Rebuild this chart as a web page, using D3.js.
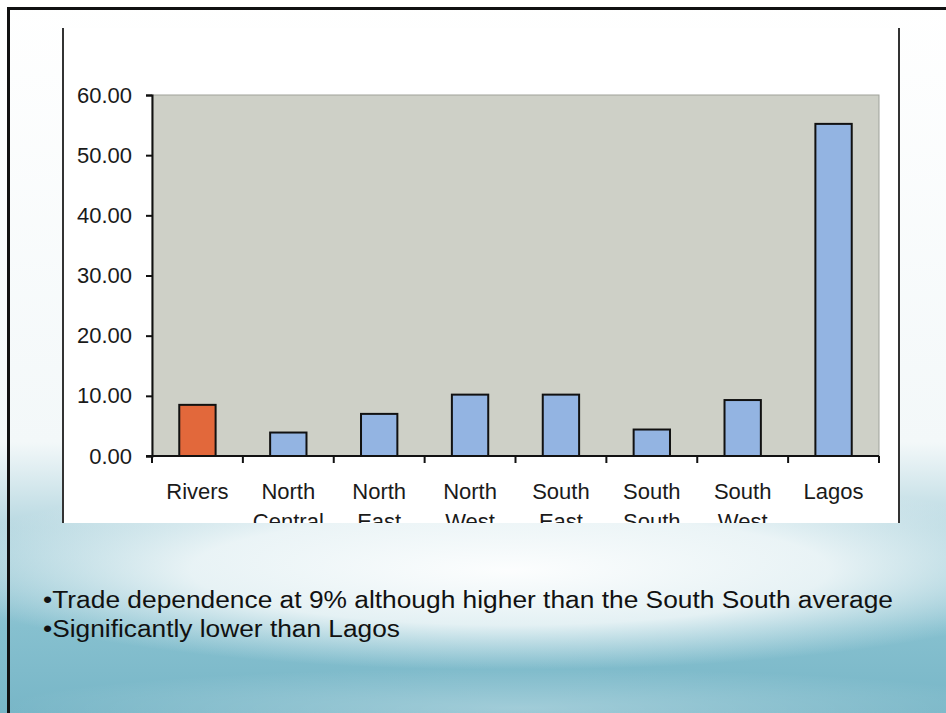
<!DOCTYPE html>
<html>
<head>
<meta charset="utf-8">
<script src="https://cdn.jsdelivr.net/npm/d3@7"></script>
<style>
  html, body { margin: 0; padding: 0; background: #ffffff; }
  svg { display: block; }
  text { font-family: "Liberation Sans", Arial, sans-serif; }
</style>
</head>
<body>
<svg id="chart" width="946" height="713"></svg>
<script>
// ---- data ----
const categories = ["Rivers", "North Central", "North East", "North West", "South East", "South South", "South West", "Lagos"];
const values = [8.5, 3.9, 7.0, 10.2, 10.2, 4.4, 9.3, 55.2];
const highlighted = ["Rivers"];
const yTicks = [0, 10, 20, 30, 40, 50, 60];
const bullets = [
  "\u2022Trade dependence at 9% although higher than the South South average",
  "\u2022Significantly lower than Lagos"
];

const W = 946, H = 713;
const svg = d3.select("#chart");
const defs = svg.append("defs");

// background gradients
const lg = defs.append("linearGradient").attr("id", "bgLin").attr("x1", 0).attr("y1", 0).attr("x2", 0).attr("y2", 1);
lg.append("stop").attr("offset", "0%").attr("stop-color", "#ffffff");
lg.append("stop").attr("offset", "62%").attr("stop-color", "#f3f8f9");
lg.append("stop").attr("offset", "74%").attr("stop-color", "#b7d8e1");
lg.append("stop").attr("offset", "88%").attr("stop-color", "#86c0cf");
lg.append("stop").attr("offset", "100%").attr("stop-color", "#78b6c7");

const rg = defs.append("radialGradient").attr("id", "glow");
rg.append("stop").attr("offset", "0%").attr("stop-color", "#ffffff").attr("stop-opacity", 0.97);
rg.append("stop").attr("offset", "55%").attr("stop-color", "#f4f9fa").attr("stop-opacity", 0.85);
rg.append("stop").attr("offset", "100%").attr("stop-color", "#e8f3f6").attr("stop-opacity", 0);

const rg2 = defs.append("radialGradient").attr("id", "glow2");
rg2.append("stop").attr("offset", "0%").attr("stop-color", "#ffffff").attr("stop-opacity", 0.3);
rg2.append("stop").attr("offset", "100%").attr("stop-color", "#ffffff").attr("stop-opacity", 0);

svg.append("rect").attr("width", W).attr("height", H).attr("fill", "url(#bgLin)");
svg.append("ellipse").attr("cx", 510).attr("cy", 570).attr("rx", 580).attr("ry", 100).attr("fill", "url(#glow)");
svg.append("ellipse").attr("cx", 520).attr("cy", 708).attr("rx", 520).attr("ry", 40).attr("fill", "url(#glow2)");

// white chart panel
const panel = { x0: 63, x1: 899, y0: 28, y1: 523 };
defs.append("clipPath").attr("id", "panelClip").append("rect")
  .attr("x", panel.x0).attr("y", panel.y0).attr("width", panel.x1 - panel.x0).attr("height", panel.y1 - panel.y0);
svg.append("rect").attr("x", panel.x0).attr("y", panel.y0)
  .attr("width", panel.x1 - panel.x0).attr("height", panel.y1 - panel.y0).attr("fill", "#ffffff");

// outer slide border
svg.append("line").attr("x1", 8).attr("x2", W).attr("y1", 8.5).attr("y2", 8.5).attr("stroke", "#111").attr("stroke-width", 3);
svg.append("line").attr("x1", 8.5).attr("x2", 8.5).attr("y1", 7).attr("y2", H).attr("stroke", "#111").attr("stroke-width", 3);

// panel side lines
[panel.x0, panel.x1].forEach(x => {
  svg.append("line").attr("x1", x).attr("x2", x).attr("y1", panel.y0).attr("y2", panel.y1)
    .attr("stroke", "#333").attr("stroke-width", 2);
});

// ---- chart ----
const plot = { left: 152, right: 879, top: 95, bottom: 456 };
const g = svg.append("g").attr("clip-path", "url(#panelClip)");

const x = d3.scaleBand().domain(categories).range([plot.left, plot.right]).paddingInner(0.6).paddingOuter(0.3);
const y = d3.scaleLinear().domain([0, 60]).range([plot.bottom, plot.top]);

// plot area
g.append("rect").attr("x", plot.left).attr("y", plot.top)
  .attr("width", plot.right - plot.left).attr("height", plot.bottom - plot.top)
  .attr("fill", "#ced0c7").attr("stroke", "#9fa29a").attr("stroke-width", 1);

// bars
g.selectAll("rect.bar").data(categories).enter().append("rect")
  .attr("class", "bar")
  .attr("x", d => x(d))
  .attr("width", x.bandwidth())
  .attr("y", (d, i) => y(values[i]))
  .attr("height", (d, i) => y(0) - y(values[i]))
  .attr("fill", d => highlighted.includes(d) ? "#e2683b" : "#93b4e2")
  .attr("stroke", "#111").attr("stroke-width", 2);

// y axis
const yAxis = d3.axisLeft(y).tickValues(yTicks).tickFormat(d3.format(".2f")).tickSize(6).tickPadding(14);
const yg = g.append("g").attr("transform", `translate(${plot.left},0)`).call(yAxis);
yg.select(".domain").attr("stroke", "#111").attr("stroke-width", 2);
yg.selectAll(".tick line").attr("stroke", "#111").attr("stroke-width", 2);
yg.selectAll(".tick text").attr("font-size", 22).attr("fill", "#1a1a1a")
  .attr("font-family", "'Liberation Sans', Arial, sans-serif");

// x axis line and boundary ticks
g.append("line").attr("x1", plot.left - 6).attr("x2", plot.right).attr("y1", y(0)).attr("y2", y(0))
  .attr("stroke", "#111").attr("stroke-width", 2);
const bounds = categories.map(c => x(c) - x.step() * x.paddingOuter()).concat([plot.right]);
g.selectAll("line.xtick").data(bounds).enter().append("line")
  .attr("class", "xtick")
  .attr("x1", d => d).attr("x2", d => d)
  .attr("y1", y(0)).attr("y2", y(0) + 7)
  .attr("stroke", "#111").attr("stroke-width", 2);

// x labels (two lines, clipped by panel)
const lbl = g.selectAll("text.xlbl").data(categories).enter().append("text")
  .attr("class", "xlbl")
  .attr("text-anchor", "middle")
  .attr("font-size", 22).attr("fill", "#1a1a1a");
lbl.each(function(d) {
  const parts = d.split(" ");
  const t = d3.select(this);
  parts.forEach((p, k) => {
    t.append("tspan").attr("x", x(d) + x.bandwidth() / 2).attr("y", 499 + k * 30).text(p);
  });
});

// bullet text
const bulletLens = [850, 357];
svg.selectAll("text.bullet").data(bullets).enter().append("text")
  .attr("class", "bullet")
  .attr("x", 43)
  .attr("y", (d, i) => 608 + i * 29)
  .attr("font-size", 23.5)
  .attr("fill", "#111")
  .attr("textLength", (d, i) => bulletLens[i])
  .attr("lengthAdjust", "spacingAndGlyphs")
  .text(d => d);
</script>
</body>
</html>
